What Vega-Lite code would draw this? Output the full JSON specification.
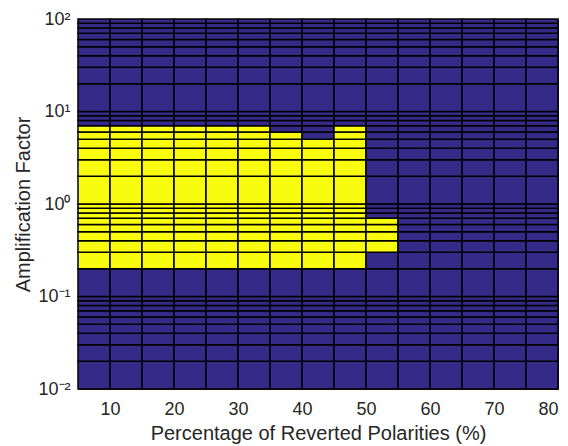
{
"$schema": "https://vega.github.io/schema/vega-lite/v6.json",
"width": 480, "height": 370,
"autosize": "none",
"padding": {"left": 78, "top": 19, "right": 10, "bottom": 57},
"background": "white",
"config": {"view": {"stroke": "#262626", "strokeWidth": 1}, "font": "Liberation Sans"},
"data": {"values": [
{"x":5,"x2":10,"y":0.01,"y2":0.02,"v":0},{"x":5,"x2":10,"y":0.02,"y2":0.03,"v":0},{"x":5,"x2":10,"y":0.03,"y2":0.04,"v":0},{"x":5,"x2":10,"y":0.04,"y2":0.05,"v":0},{"x":5,"x2":10,"y":0.05,"y2":0.06,"v":0},{"x":5,"x2":10,"y":0.06,"y2":0.07,"v":0},{"x":5,"x2":10,"y":0.07,"y2":0.08,"v":0},{"x":5,"x2":10,"y":0.08,"y2":0.09,"v":0},{"x":5,"x2":10,"y":0.09,"y2":0.1,"v":0},{"x":5,"x2":10,"y":0.1,"y2":0.2,"v":0},{"x":5,"x2":10,"y":0.2,"y2":0.3,"v":1},{"x":5,"x2":10,"y":0.3,"y2":0.4,"v":1},{"x":5,"x2":10,"y":0.4,"y2":0.5,"v":1},{"x":5,"x2":10,"y":0.5,"y2":0.6,"v":1},{"x":5,"x2":10,"y":0.6,"y2":0.7,"v":1},{"x":5,"x2":10,"y":0.7,"y2":0.8,"v":1},{"x":5,"x2":10,"y":0.8,"y2":0.9,"v":1},{"x":5,"x2":10,"y":0.9,"y2":1,"v":1},{"x":5,"x2":10,"y":1,"y2":2,"v":1},{"x":5,"x2":10,"y":2,"y2":3,"v":1},{"x":5,"x2":10,"y":3,"y2":4,"v":1},{"x":5,"x2":10,"y":4,"y2":5,"v":1},{"x":5,"x2":10,"y":5,"y2":6,"v":1},{"x":5,"x2":10,"y":6,"y2":7,"v":1},{"x":5,"x2":10,"y":7,"y2":8,"v":0},{"x":5,"x2":10,"y":8,"y2":9,"v":0},{"x":5,"x2":10,"y":9,"y2":10,"v":0},{"x":5,"x2":10,"y":10,"y2":20,"v":0},{"x":5,"x2":10,"y":20,"y2":30,"v":0},{"x":5,"x2":10,"y":30,"y2":40,"v":0},{"x":5,"x2":10,"y":40,"y2":50,"v":0},{"x":5,"x2":10,"y":50,"y2":60,"v":0},{"x":5,"x2":10,"y":60,"y2":70,"v":0},{"x":5,"x2":10,"y":70,"y2":80,"v":0},{"x":5,"x2":10,"y":80,"y2":90,"v":0},{"x":5,"x2":10,"y":90,"y2":100,"v":0},
{"x":10,"x2":15,"y":0.01,"y2":0.02,"v":0},{"x":10,"x2":15,"y":0.02,"y2":0.03,"v":0},{"x":10,"x2":15,"y":0.03,"y2":0.04,"v":0},{"x":10,"x2":15,"y":0.04,"y2":0.05,"v":0},{"x":10,"x2":15,"y":0.05,"y2":0.06,"v":0},{"x":10,"x2":15,"y":0.06,"y2":0.07,"v":0},{"x":10,"x2":15,"y":0.07,"y2":0.08,"v":0},{"x":10,"x2":15,"y":0.08,"y2":0.09,"v":0},{"x":10,"x2":15,"y":0.09,"y2":0.1,"v":0},{"x":10,"x2":15,"y":0.1,"y2":0.2,"v":0},{"x":10,"x2":15,"y":0.2,"y2":0.3,"v":1},{"x":10,"x2":15,"y":0.3,"y2":0.4,"v":1},{"x":10,"x2":15,"y":0.4,"y2":0.5,"v":1},{"x":10,"x2":15,"y":0.5,"y2":0.6,"v":1},{"x":10,"x2":15,"y":0.6,"y2":0.7,"v":1},{"x":10,"x2":15,"y":0.7,"y2":0.8,"v":1},{"x":10,"x2":15,"y":0.8,"y2":0.9,"v":1},{"x":10,"x2":15,"y":0.9,"y2":1,"v":1},{"x":10,"x2":15,"y":1,"y2":2,"v":1},{"x":10,"x2":15,"y":2,"y2":3,"v":1},{"x":10,"x2":15,"y":3,"y2":4,"v":1},{"x":10,"x2":15,"y":4,"y2":5,"v":1},{"x":10,"x2":15,"y":5,"y2":6,"v":1},{"x":10,"x2":15,"y":6,"y2":7,"v":1},{"x":10,"x2":15,"y":7,"y2":8,"v":0},{"x":10,"x2":15,"y":8,"y2":9,"v":0},{"x":10,"x2":15,"y":9,"y2":10,"v":0},{"x":10,"x2":15,"y":10,"y2":20,"v":0},{"x":10,"x2":15,"y":20,"y2":30,"v":0},{"x":10,"x2":15,"y":30,"y2":40,"v":0},{"x":10,"x2":15,"y":40,"y2":50,"v":0},{"x":10,"x2":15,"y":50,"y2":60,"v":0},{"x":10,"x2":15,"y":60,"y2":70,"v":0},{"x":10,"x2":15,"y":70,"y2":80,"v":0},{"x":10,"x2":15,"y":80,"y2":90,"v":0},{"x":10,"x2":15,"y":90,"y2":100,"v":0},
{"x":15,"x2":20,"y":0.01,"y2":0.02,"v":0},{"x":15,"x2":20,"y":0.02,"y2":0.03,"v":0},{"x":15,"x2":20,"y":0.03,"y2":0.04,"v":0},{"x":15,"x2":20,"y":0.04,"y2":0.05,"v":0},{"x":15,"x2":20,"y":0.05,"y2":0.06,"v":0},{"x":15,"x2":20,"y":0.06,"y2":0.07,"v":0},{"x":15,"x2":20,"y":0.07,"y2":0.08,"v":0},{"x":15,"x2":20,"y":0.08,"y2":0.09,"v":0},{"x":15,"x2":20,"y":0.09,"y2":0.1,"v":0},{"x":15,"x2":20,"y":0.1,"y2":0.2,"v":0},{"x":15,"x2":20,"y":0.2,"y2":0.3,"v":1},{"x":15,"x2":20,"y":0.3,"y2":0.4,"v":1},{"x":15,"x2":20,"y":0.4,"y2":0.5,"v":1},{"x":15,"x2":20,"y":0.5,"y2":0.6,"v":1},{"x":15,"x2":20,"y":0.6,"y2":0.7,"v":1},{"x":15,"x2":20,"y":0.7,"y2":0.8,"v":1},{"x":15,"x2":20,"y":0.8,"y2":0.9,"v":1},{"x":15,"x2":20,"y":0.9,"y2":1,"v":1},{"x":15,"x2":20,"y":1,"y2":2,"v":1},{"x":15,"x2":20,"y":2,"y2":3,"v":1},{"x":15,"x2":20,"y":3,"y2":4,"v":1},{"x":15,"x2":20,"y":4,"y2":5,"v":1},{"x":15,"x2":20,"y":5,"y2":6,"v":1},{"x":15,"x2":20,"y":6,"y2":7,"v":1},{"x":15,"x2":20,"y":7,"y2":8,"v":0},{"x":15,"x2":20,"y":8,"y2":9,"v":0},{"x":15,"x2":20,"y":9,"y2":10,"v":0},{"x":15,"x2":20,"y":10,"y2":20,"v":0},{"x":15,"x2":20,"y":20,"y2":30,"v":0},{"x":15,"x2":20,"y":30,"y2":40,"v":0},{"x":15,"x2":20,"y":40,"y2":50,"v":0},{"x":15,"x2":20,"y":50,"y2":60,"v":0},{"x":15,"x2":20,"y":60,"y2":70,"v":0},{"x":15,"x2":20,"y":70,"y2":80,"v":0},{"x":15,"x2":20,"y":80,"y2":90,"v":0},{"x":15,"x2":20,"y":90,"y2":100,"v":0},
{"x":20,"x2":25,"y":0.01,"y2":0.02,"v":0},{"x":20,"x2":25,"y":0.02,"y2":0.03,"v":0},{"x":20,"x2":25,"y":0.03,"y2":0.04,"v":0},{"x":20,"x2":25,"y":0.04,"y2":0.05,"v":0},{"x":20,"x2":25,"y":0.05,"y2":0.06,"v":0},{"x":20,"x2":25,"y":0.06,"y2":0.07,"v":0},{"x":20,"x2":25,"y":0.07,"y2":0.08,"v":0},{"x":20,"x2":25,"y":0.08,"y2":0.09,"v":0},{"x":20,"x2":25,"y":0.09,"y2":0.1,"v":0},{"x":20,"x2":25,"y":0.1,"y2":0.2,"v":0},{"x":20,"x2":25,"y":0.2,"y2":0.3,"v":1},{"x":20,"x2":25,"y":0.3,"y2":0.4,"v":1},{"x":20,"x2":25,"y":0.4,"y2":0.5,"v":1},{"x":20,"x2":25,"y":0.5,"y2":0.6,"v":1},{"x":20,"x2":25,"y":0.6,"y2":0.7,"v":1},{"x":20,"x2":25,"y":0.7,"y2":0.8,"v":1},{"x":20,"x2":25,"y":0.8,"y2":0.9,"v":1},{"x":20,"x2":25,"y":0.9,"y2":1,"v":1},{"x":20,"x2":25,"y":1,"y2":2,"v":1},{"x":20,"x2":25,"y":2,"y2":3,"v":1},{"x":20,"x2":25,"y":3,"y2":4,"v":1},{"x":20,"x2":25,"y":4,"y2":5,"v":1},{"x":20,"x2":25,"y":5,"y2":6,"v":1},{"x":20,"x2":25,"y":6,"y2":7,"v":1},{"x":20,"x2":25,"y":7,"y2":8,"v":0},{"x":20,"x2":25,"y":8,"y2":9,"v":0},{"x":20,"x2":25,"y":9,"y2":10,"v":0},{"x":20,"x2":25,"y":10,"y2":20,"v":0},{"x":20,"x2":25,"y":20,"y2":30,"v":0},{"x":20,"x2":25,"y":30,"y2":40,"v":0},{"x":20,"x2":25,"y":40,"y2":50,"v":0},{"x":20,"x2":25,"y":50,"y2":60,"v":0},{"x":20,"x2":25,"y":60,"y2":70,"v":0},{"x":20,"x2":25,"y":70,"y2":80,"v":0},{"x":20,"x2":25,"y":80,"y2":90,"v":0},{"x":20,"x2":25,"y":90,"y2":100,"v":0},
{"x":25,"x2":30,"y":0.01,"y2":0.02,"v":0},{"x":25,"x2":30,"y":0.02,"y2":0.03,"v":0},{"x":25,"x2":30,"y":0.03,"y2":0.04,"v":0},{"x":25,"x2":30,"y":0.04,"y2":0.05,"v":0},{"x":25,"x2":30,"y":0.05,"y2":0.06,"v":0},{"x":25,"x2":30,"y":0.06,"y2":0.07,"v":0},{"x":25,"x2":30,"y":0.07,"y2":0.08,"v":0},{"x":25,"x2":30,"y":0.08,"y2":0.09,"v":0},{"x":25,"x2":30,"y":0.09,"y2":0.1,"v":0},{"x":25,"x2":30,"y":0.1,"y2":0.2,"v":0},{"x":25,"x2":30,"y":0.2,"y2":0.3,"v":1},{"x":25,"x2":30,"y":0.3,"y2":0.4,"v":1},{"x":25,"x2":30,"y":0.4,"y2":0.5,"v":1},{"x":25,"x2":30,"y":0.5,"y2":0.6,"v":1},{"x":25,"x2":30,"y":0.6,"y2":0.7,"v":1},{"x":25,"x2":30,"y":0.7,"y2":0.8,"v":1},{"x":25,"x2":30,"y":0.8,"y2":0.9,"v":1},{"x":25,"x2":30,"y":0.9,"y2":1,"v":1},{"x":25,"x2":30,"y":1,"y2":2,"v":1},{"x":25,"x2":30,"y":2,"y2":3,"v":1},{"x":25,"x2":30,"y":3,"y2":4,"v":1},{"x":25,"x2":30,"y":4,"y2":5,"v":1},{"x":25,"x2":30,"y":5,"y2":6,"v":1},{"x":25,"x2":30,"y":6,"y2":7,"v":1},{"x":25,"x2":30,"y":7,"y2":8,"v":0},{"x":25,"x2":30,"y":8,"y2":9,"v":0},{"x":25,"x2":30,"y":9,"y2":10,"v":0},{"x":25,"x2":30,"y":10,"y2":20,"v":0},{"x":25,"x2":30,"y":20,"y2":30,"v":0},{"x":25,"x2":30,"y":30,"y2":40,"v":0},{"x":25,"x2":30,"y":40,"y2":50,"v":0},{"x":25,"x2":30,"y":50,"y2":60,"v":0},{"x":25,"x2":30,"y":60,"y2":70,"v":0},{"x":25,"x2":30,"y":70,"y2":80,"v":0},{"x":25,"x2":30,"y":80,"y2":90,"v":0},{"x":25,"x2":30,"y":90,"y2":100,"v":0},
{"x":30,"x2":35,"y":0.01,"y2":0.02,"v":0},{"x":30,"x2":35,"y":0.02,"y2":0.03,"v":0},{"x":30,"x2":35,"y":0.03,"y2":0.04,"v":0},{"x":30,"x2":35,"y":0.04,"y2":0.05,"v":0},{"x":30,"x2":35,"y":0.05,"y2":0.06,"v":0},{"x":30,"x2":35,"y":0.06,"y2":0.07,"v":0},{"x":30,"x2":35,"y":0.07,"y2":0.08,"v":0},{"x":30,"x2":35,"y":0.08,"y2":0.09,"v":0},{"x":30,"x2":35,"y":0.09,"y2":0.1,"v":0},{"x":30,"x2":35,"y":0.1,"y2":0.2,"v":0},{"x":30,"x2":35,"y":0.2,"y2":0.3,"v":1},{"x":30,"x2":35,"y":0.3,"y2":0.4,"v":1},{"x":30,"x2":35,"y":0.4,"y2":0.5,"v":1},{"x":30,"x2":35,"y":0.5,"y2":0.6,"v":1},{"x":30,"x2":35,"y":0.6,"y2":0.7,"v":1},{"x":30,"x2":35,"y":0.7,"y2":0.8,"v":1},{"x":30,"x2":35,"y":0.8,"y2":0.9,"v":1},{"x":30,"x2":35,"y":0.9,"y2":1,"v":1},{"x":30,"x2":35,"y":1,"y2":2,"v":1},{"x":30,"x2":35,"y":2,"y2":3,"v":1},{"x":30,"x2":35,"y":3,"y2":4,"v":1},{"x":30,"x2":35,"y":4,"y2":5,"v":1},{"x":30,"x2":35,"y":5,"y2":6,"v":1},{"x":30,"x2":35,"y":6,"y2":7,"v":1},{"x":30,"x2":35,"y":7,"y2":8,"v":0},{"x":30,"x2":35,"y":8,"y2":9,"v":0},{"x":30,"x2":35,"y":9,"y2":10,"v":0},{"x":30,"x2":35,"y":10,"y2":20,"v":0},{"x":30,"x2":35,"y":20,"y2":30,"v":0},{"x":30,"x2":35,"y":30,"y2":40,"v":0},{"x":30,"x2":35,"y":40,"y2":50,"v":0},{"x":30,"x2":35,"y":50,"y2":60,"v":0},{"x":30,"x2":35,"y":60,"y2":70,"v":0},{"x":30,"x2":35,"y":70,"y2":80,"v":0},{"x":30,"x2":35,"y":80,"y2":90,"v":0},{"x":30,"x2":35,"y":90,"y2":100,"v":0},
{"x":35,"x2":40,"y":0.01,"y2":0.02,"v":0},{"x":35,"x2":40,"y":0.02,"y2":0.03,"v":0},{"x":35,"x2":40,"y":0.03,"y2":0.04,"v":0},{"x":35,"x2":40,"y":0.04,"y2":0.05,"v":0},{"x":35,"x2":40,"y":0.05,"y2":0.06,"v":0},{"x":35,"x2":40,"y":0.06,"y2":0.07,"v":0},{"x":35,"x2":40,"y":0.07,"y2":0.08,"v":0},{"x":35,"x2":40,"y":0.08,"y2":0.09,"v":0},{"x":35,"x2":40,"y":0.09,"y2":0.1,"v":0},{"x":35,"x2":40,"y":0.1,"y2":0.2,"v":0},{"x":35,"x2":40,"y":0.2,"y2":0.3,"v":1},{"x":35,"x2":40,"y":0.3,"y2":0.4,"v":1},{"x":35,"x2":40,"y":0.4,"y2":0.5,"v":1},{"x":35,"x2":40,"y":0.5,"y2":0.6,"v":1},{"x":35,"x2":40,"y":0.6,"y2":0.7,"v":1},{"x":35,"x2":40,"y":0.7,"y2":0.8,"v":1},{"x":35,"x2":40,"y":0.8,"y2":0.9,"v":1},{"x":35,"x2":40,"y":0.9,"y2":1,"v":1},{"x":35,"x2":40,"y":1,"y2":2,"v":1},{"x":35,"x2":40,"y":2,"y2":3,"v":1},{"x":35,"x2":40,"y":3,"y2":4,"v":1},{"x":35,"x2":40,"y":4,"y2":5,"v":1},{"x":35,"x2":40,"y":5,"y2":6,"v":1},{"x":35,"x2":40,"y":6,"y2":7,"v":0},{"x":35,"x2":40,"y":7,"y2":8,"v":0},{"x":35,"x2":40,"y":8,"y2":9,"v":0},{"x":35,"x2":40,"y":9,"y2":10,"v":0},{"x":35,"x2":40,"y":10,"y2":20,"v":0},{"x":35,"x2":40,"y":20,"y2":30,"v":0},{"x":35,"x2":40,"y":30,"y2":40,"v":0},{"x":35,"x2":40,"y":40,"y2":50,"v":0},{"x":35,"x2":40,"y":50,"y2":60,"v":0},{"x":35,"x2":40,"y":60,"y2":70,"v":0},{"x":35,"x2":40,"y":70,"y2":80,"v":0},{"x":35,"x2":40,"y":80,"y2":90,"v":0},{"x":35,"x2":40,"y":90,"y2":100,"v":0},
{"x":40,"x2":45,"y":0.01,"y2":0.02,"v":0},{"x":40,"x2":45,"y":0.02,"y2":0.03,"v":0},{"x":40,"x2":45,"y":0.03,"y2":0.04,"v":0},{"x":40,"x2":45,"y":0.04,"y2":0.05,"v":0},{"x":40,"x2":45,"y":0.05,"y2":0.06,"v":0},{"x":40,"x2":45,"y":0.06,"y2":0.07,"v":0},{"x":40,"x2":45,"y":0.07,"y2":0.08,"v":0},{"x":40,"x2":45,"y":0.08,"y2":0.09,"v":0},{"x":40,"x2":45,"y":0.09,"y2":0.1,"v":0},{"x":40,"x2":45,"y":0.1,"y2":0.2,"v":0},{"x":40,"x2":45,"y":0.2,"y2":0.3,"v":1},{"x":40,"x2":45,"y":0.3,"y2":0.4,"v":1},{"x":40,"x2":45,"y":0.4,"y2":0.5,"v":1},{"x":40,"x2":45,"y":0.5,"y2":0.6,"v":1},{"x":40,"x2":45,"y":0.6,"y2":0.7,"v":1},{"x":40,"x2":45,"y":0.7,"y2":0.8,"v":1},{"x":40,"x2":45,"y":0.8,"y2":0.9,"v":1},{"x":40,"x2":45,"y":0.9,"y2":1,"v":1},{"x":40,"x2":45,"y":1,"y2":2,"v":1},{"x":40,"x2":45,"y":2,"y2":3,"v":1},{"x":40,"x2":45,"y":3,"y2":4,"v":1},{"x":40,"x2":45,"y":4,"y2":5,"v":1},{"x":40,"x2":45,"y":5,"y2":6,"v":0},{"x":40,"x2":45,"y":6,"y2":7,"v":0},{"x":40,"x2":45,"y":7,"y2":8,"v":0},{"x":40,"x2":45,"y":8,"y2":9,"v":0},{"x":40,"x2":45,"y":9,"y2":10,"v":0},{"x":40,"x2":45,"y":10,"y2":20,"v":0},{"x":40,"x2":45,"y":20,"y2":30,"v":0},{"x":40,"x2":45,"y":30,"y2":40,"v":0},{"x":40,"x2":45,"y":40,"y2":50,"v":0},{"x":40,"x2":45,"y":50,"y2":60,"v":0},{"x":40,"x2":45,"y":60,"y2":70,"v":0},{"x":40,"x2":45,"y":70,"y2":80,"v":0},{"x":40,"x2":45,"y":80,"y2":90,"v":0},{"x":40,"x2":45,"y":90,"y2":100,"v":0},
{"x":45,"x2":50,"y":0.01,"y2":0.02,"v":0},{"x":45,"x2":50,"y":0.02,"y2":0.03,"v":0},{"x":45,"x2":50,"y":0.03,"y2":0.04,"v":0},{"x":45,"x2":50,"y":0.04,"y2":0.05,"v":0},{"x":45,"x2":50,"y":0.05,"y2":0.06,"v":0},{"x":45,"x2":50,"y":0.06,"y2":0.07,"v":0},{"x":45,"x2":50,"y":0.07,"y2":0.08,"v":0},{"x":45,"x2":50,"y":0.08,"y2":0.09,"v":0},{"x":45,"x2":50,"y":0.09,"y2":0.1,"v":0},{"x":45,"x2":50,"y":0.1,"y2":0.2,"v":0},{"x":45,"x2":50,"y":0.2,"y2":0.3,"v":1},{"x":45,"x2":50,"y":0.3,"y2":0.4,"v":1},{"x":45,"x2":50,"y":0.4,"y2":0.5,"v":1},{"x":45,"x2":50,"y":0.5,"y2":0.6,"v":1},{"x":45,"x2":50,"y":0.6,"y2":0.7,"v":1},{"x":45,"x2":50,"y":0.7,"y2":0.8,"v":1},{"x":45,"x2":50,"y":0.8,"y2":0.9,"v":1},{"x":45,"x2":50,"y":0.9,"y2":1,"v":1},{"x":45,"x2":50,"y":1,"y2":2,"v":1},{"x":45,"x2":50,"y":2,"y2":3,"v":1},{"x":45,"x2":50,"y":3,"y2":4,"v":1},{"x":45,"x2":50,"y":4,"y2":5,"v":1},{"x":45,"x2":50,"y":5,"y2":6,"v":1},{"x":45,"x2":50,"y":6,"y2":7,"v":1},{"x":45,"x2":50,"y":7,"y2":8,"v":0},{"x":45,"x2":50,"y":8,"y2":9,"v":0},{"x":45,"x2":50,"y":9,"y2":10,"v":0},{"x":45,"x2":50,"y":10,"y2":20,"v":0},{"x":45,"x2":50,"y":20,"y2":30,"v":0},{"x":45,"x2":50,"y":30,"y2":40,"v":0},{"x":45,"x2":50,"y":40,"y2":50,"v":0},{"x":45,"x2":50,"y":50,"y2":60,"v":0},{"x":45,"x2":50,"y":60,"y2":70,"v":0},{"x":45,"x2":50,"y":70,"y2":80,"v":0},{"x":45,"x2":50,"y":80,"y2":90,"v":0},{"x":45,"x2":50,"y":90,"y2":100,"v":0},
{"x":50,"x2":55,"y":0.01,"y2":0.02,"v":0},{"x":50,"x2":55,"y":0.02,"y2":0.03,"v":0},{"x":50,"x2":55,"y":0.03,"y2":0.04,"v":0},{"x":50,"x2":55,"y":0.04,"y2":0.05,"v":0},{"x":50,"x2":55,"y":0.05,"y2":0.06,"v":0},{"x":50,"x2":55,"y":0.06,"y2":0.07,"v":0},{"x":50,"x2":55,"y":0.07,"y2":0.08,"v":0},{"x":50,"x2":55,"y":0.08,"y2":0.09,"v":0},{"x":50,"x2":55,"y":0.09,"y2":0.1,"v":0},{"x":50,"x2":55,"y":0.1,"y2":0.2,"v":0},{"x":50,"x2":55,"y":0.2,"y2":0.3,"v":0},{"x":50,"x2":55,"y":0.3,"y2":0.4,"v":1},{"x":50,"x2":55,"y":0.4,"y2":0.5,"v":1},{"x":50,"x2":55,"y":0.5,"y2":0.6,"v":1},{"x":50,"x2":55,"y":0.6,"y2":0.7,"v":1},{"x":50,"x2":55,"y":0.7,"y2":0.8,"v":0},{"x":50,"x2":55,"y":0.8,"y2":0.9,"v":0},{"x":50,"x2":55,"y":0.9,"y2":1,"v":0},{"x":50,"x2":55,"y":1,"y2":2,"v":0},{"x":50,"x2":55,"y":2,"y2":3,"v":0},{"x":50,"x2":55,"y":3,"y2":4,"v":0},{"x":50,"x2":55,"y":4,"y2":5,"v":0},{"x":50,"x2":55,"y":5,"y2":6,"v":0},{"x":50,"x2":55,"y":6,"y2":7,"v":0},{"x":50,"x2":55,"y":7,"y2":8,"v":0},{"x":50,"x2":55,"y":8,"y2":9,"v":0},{"x":50,"x2":55,"y":9,"y2":10,"v":0},{"x":50,"x2":55,"y":10,"y2":20,"v":0},{"x":50,"x2":55,"y":20,"y2":30,"v":0},{"x":50,"x2":55,"y":30,"y2":40,"v":0},{"x":50,"x2":55,"y":40,"y2":50,"v":0},{"x":50,"x2":55,"y":50,"y2":60,"v":0},{"x":50,"x2":55,"y":60,"y2":70,"v":0},{"x":50,"x2":55,"y":70,"y2":80,"v":0},{"x":50,"x2":55,"y":80,"y2":90,"v":0},{"x":50,"x2":55,"y":90,"y2":100,"v":0},
{"x":55,"x2":60,"y":0.01,"y2":0.02,"v":0},{"x":55,"x2":60,"y":0.02,"y2":0.03,"v":0},{"x":55,"x2":60,"y":0.03,"y2":0.04,"v":0},{"x":55,"x2":60,"y":0.04,"y2":0.05,"v":0},{"x":55,"x2":60,"y":0.05,"y2":0.06,"v":0},{"x":55,"x2":60,"y":0.06,"y2":0.07,"v":0},{"x":55,"x2":60,"y":0.07,"y2":0.08,"v":0},{"x":55,"x2":60,"y":0.08,"y2":0.09,"v":0},{"x":55,"x2":60,"y":0.09,"y2":0.1,"v":0},{"x":55,"x2":60,"y":0.1,"y2":0.2,"v":0},{"x":55,"x2":60,"y":0.2,"y2":0.3,"v":0},{"x":55,"x2":60,"y":0.3,"y2":0.4,"v":0},{"x":55,"x2":60,"y":0.4,"y2":0.5,"v":0},{"x":55,"x2":60,"y":0.5,"y2":0.6,"v":0},{"x":55,"x2":60,"y":0.6,"y2":0.7,"v":0},{"x":55,"x2":60,"y":0.7,"y2":0.8,"v":0},{"x":55,"x2":60,"y":0.8,"y2":0.9,"v":0},{"x":55,"x2":60,"y":0.9,"y2":1,"v":0},{"x":55,"x2":60,"y":1,"y2":2,"v":0},{"x":55,"x2":60,"y":2,"y2":3,"v":0},{"x":55,"x2":60,"y":3,"y2":4,"v":0},{"x":55,"x2":60,"y":4,"y2":5,"v":0},{"x":55,"x2":60,"y":5,"y2":6,"v":0},{"x":55,"x2":60,"y":6,"y2":7,"v":0},{"x":55,"x2":60,"y":7,"y2":8,"v":0},{"x":55,"x2":60,"y":8,"y2":9,"v":0},{"x":55,"x2":60,"y":9,"y2":10,"v":0},{"x":55,"x2":60,"y":10,"y2":20,"v":0},{"x":55,"x2":60,"y":20,"y2":30,"v":0},{"x":55,"x2":60,"y":30,"y2":40,"v":0},{"x":55,"x2":60,"y":40,"y2":50,"v":0},{"x":55,"x2":60,"y":50,"y2":60,"v":0},{"x":55,"x2":60,"y":60,"y2":70,"v":0},{"x":55,"x2":60,"y":70,"y2":80,"v":0},{"x":55,"x2":60,"y":80,"y2":90,"v":0},{"x":55,"x2":60,"y":90,"y2":100,"v":0},
{"x":60,"x2":65,"y":0.01,"y2":0.02,"v":0},{"x":60,"x2":65,"y":0.02,"y2":0.03,"v":0},{"x":60,"x2":65,"y":0.03,"y2":0.04,"v":0},{"x":60,"x2":65,"y":0.04,"y2":0.05,"v":0},{"x":60,"x2":65,"y":0.05,"y2":0.06,"v":0},{"x":60,"x2":65,"y":0.06,"y2":0.07,"v":0},{"x":60,"x2":65,"y":0.07,"y2":0.08,"v":0},{"x":60,"x2":65,"y":0.08,"y2":0.09,"v":0},{"x":60,"x2":65,"y":0.09,"y2":0.1,"v":0},{"x":60,"x2":65,"y":0.1,"y2":0.2,"v":0},{"x":60,"x2":65,"y":0.2,"y2":0.3,"v":0},{"x":60,"x2":65,"y":0.3,"y2":0.4,"v":0},{"x":60,"x2":65,"y":0.4,"y2":0.5,"v":0},{"x":60,"x2":65,"y":0.5,"y2":0.6,"v":0},{"x":60,"x2":65,"y":0.6,"y2":0.7,"v":0},{"x":60,"x2":65,"y":0.7,"y2":0.8,"v":0},{"x":60,"x2":65,"y":0.8,"y2":0.9,"v":0},{"x":60,"x2":65,"y":0.9,"y2":1,"v":0},{"x":60,"x2":65,"y":1,"y2":2,"v":0},{"x":60,"x2":65,"y":2,"y2":3,"v":0},{"x":60,"x2":65,"y":3,"y2":4,"v":0},{"x":60,"x2":65,"y":4,"y2":5,"v":0},{"x":60,"x2":65,"y":5,"y2":6,"v":0},{"x":60,"x2":65,"y":6,"y2":7,"v":0},{"x":60,"x2":65,"y":7,"y2":8,"v":0},{"x":60,"x2":65,"y":8,"y2":9,"v":0},{"x":60,"x2":65,"y":9,"y2":10,"v":0},{"x":60,"x2":65,"y":10,"y2":20,"v":0},{"x":60,"x2":65,"y":20,"y2":30,"v":0},{"x":60,"x2":65,"y":30,"y2":40,"v":0},{"x":60,"x2":65,"y":40,"y2":50,"v":0},{"x":60,"x2":65,"y":50,"y2":60,"v":0},{"x":60,"x2":65,"y":60,"y2":70,"v":0},{"x":60,"x2":65,"y":70,"y2":80,"v":0},{"x":60,"x2":65,"y":80,"y2":90,"v":0},{"x":60,"x2":65,"y":90,"y2":100,"v":0},
{"x":65,"x2":70,"y":0.01,"y2":0.02,"v":0},{"x":65,"x2":70,"y":0.02,"y2":0.03,"v":0},{"x":65,"x2":70,"y":0.03,"y2":0.04,"v":0},{"x":65,"x2":70,"y":0.04,"y2":0.05,"v":0},{"x":65,"x2":70,"y":0.05,"y2":0.06,"v":0},{"x":65,"x2":70,"y":0.06,"y2":0.07,"v":0},{"x":65,"x2":70,"y":0.07,"y2":0.08,"v":0},{"x":65,"x2":70,"y":0.08,"y2":0.09,"v":0},{"x":65,"x2":70,"y":0.09,"y2":0.1,"v":0},{"x":65,"x2":70,"y":0.1,"y2":0.2,"v":0},{"x":65,"x2":70,"y":0.2,"y2":0.3,"v":0},{"x":65,"x2":70,"y":0.3,"y2":0.4,"v":0},{"x":65,"x2":70,"y":0.4,"y2":0.5,"v":0},{"x":65,"x2":70,"y":0.5,"y2":0.6,"v":0},{"x":65,"x2":70,"y":0.6,"y2":0.7,"v":0},{"x":65,"x2":70,"y":0.7,"y2":0.8,"v":0},{"x":65,"x2":70,"y":0.8,"y2":0.9,"v":0},{"x":65,"x2":70,"y":0.9,"y2":1,"v":0},{"x":65,"x2":70,"y":1,"y2":2,"v":0},{"x":65,"x2":70,"y":2,"y2":3,"v":0},{"x":65,"x2":70,"y":3,"y2":4,"v":0},{"x":65,"x2":70,"y":4,"y2":5,"v":0},{"x":65,"x2":70,"y":5,"y2":6,"v":0},{"x":65,"x2":70,"y":6,"y2":7,"v":0},{"x":65,"x2":70,"y":7,"y2":8,"v":0},{"x":65,"x2":70,"y":8,"y2":9,"v":0},{"x":65,"x2":70,"y":9,"y2":10,"v":0},{"x":65,"x2":70,"y":10,"y2":20,"v":0},{"x":65,"x2":70,"y":20,"y2":30,"v":0},{"x":65,"x2":70,"y":30,"y2":40,"v":0},{"x":65,"x2":70,"y":40,"y2":50,"v":0},{"x":65,"x2":70,"y":50,"y2":60,"v":0},{"x":65,"x2":70,"y":60,"y2":70,"v":0},{"x":65,"x2":70,"y":70,"y2":80,"v":0},{"x":65,"x2":70,"y":80,"y2":90,"v":0},{"x":65,"x2":70,"y":90,"y2":100,"v":0},
{"x":70,"x2":75,"y":0.01,"y2":0.02,"v":0},{"x":70,"x2":75,"y":0.02,"y2":0.03,"v":0},{"x":70,"x2":75,"y":0.03,"y2":0.04,"v":0},{"x":70,"x2":75,"y":0.04,"y2":0.05,"v":0},{"x":70,"x2":75,"y":0.05,"y2":0.06,"v":0},{"x":70,"x2":75,"y":0.06,"y2":0.07,"v":0},{"x":70,"x2":75,"y":0.07,"y2":0.08,"v":0},{"x":70,"x2":75,"y":0.08,"y2":0.09,"v":0},{"x":70,"x2":75,"y":0.09,"y2":0.1,"v":0},{"x":70,"x2":75,"y":0.1,"y2":0.2,"v":0},{"x":70,"x2":75,"y":0.2,"y2":0.3,"v":0},{"x":70,"x2":75,"y":0.3,"y2":0.4,"v":0},{"x":70,"x2":75,"y":0.4,"y2":0.5,"v":0},{"x":70,"x2":75,"y":0.5,"y2":0.6,"v":0},{"x":70,"x2":75,"y":0.6,"y2":0.7,"v":0},{"x":70,"x2":75,"y":0.7,"y2":0.8,"v":0},{"x":70,"x2":75,"y":0.8,"y2":0.9,"v":0},{"x":70,"x2":75,"y":0.9,"y2":1,"v":0},{"x":70,"x2":75,"y":1,"y2":2,"v":0},{"x":70,"x2":75,"y":2,"y2":3,"v":0},{"x":70,"x2":75,"y":3,"y2":4,"v":0},{"x":70,"x2":75,"y":4,"y2":5,"v":0},{"x":70,"x2":75,"y":5,"y2":6,"v":0},{"x":70,"x2":75,"y":6,"y2":7,"v":0},{"x":70,"x2":75,"y":7,"y2":8,"v":0},{"x":70,"x2":75,"y":8,"y2":9,"v":0},{"x":70,"x2":75,"y":9,"y2":10,"v":0},{"x":70,"x2":75,"y":10,"y2":20,"v":0},{"x":70,"x2":75,"y":20,"y2":30,"v":0},{"x":70,"x2":75,"y":30,"y2":40,"v":0},{"x":70,"x2":75,"y":40,"y2":50,"v":0},{"x":70,"x2":75,"y":50,"y2":60,"v":0},{"x":70,"x2":75,"y":60,"y2":70,"v":0},{"x":70,"x2":75,"y":70,"y2":80,"v":0},{"x":70,"x2":75,"y":80,"y2":90,"v":0},{"x":70,"x2":75,"y":90,"y2":100,"v":0},
{"x":75,"x2":80,"y":0.01,"y2":0.02,"v":0},{"x":75,"x2":80,"y":0.02,"y2":0.03,"v":0},{"x":75,"x2":80,"y":0.03,"y2":0.04,"v":0},{"x":75,"x2":80,"y":0.04,"y2":0.05,"v":0},{"x":75,"x2":80,"y":0.05,"y2":0.06,"v":0},{"x":75,"x2":80,"y":0.06,"y2":0.07,"v":0},{"x":75,"x2":80,"y":0.07,"y2":0.08,"v":0},{"x":75,"x2":80,"y":0.08,"y2":0.09,"v":0},{"x":75,"x2":80,"y":0.09,"y2":0.1,"v":0},{"x":75,"x2":80,"y":0.1,"y2":0.2,"v":0},{"x":75,"x2":80,"y":0.2,"y2":0.3,"v":0},{"x":75,"x2":80,"y":0.3,"y2":0.4,"v":0},{"x":75,"x2":80,"y":0.4,"y2":0.5,"v":0},{"x":75,"x2":80,"y":0.5,"y2":0.6,"v":0},{"x":75,"x2":80,"y":0.6,"y2":0.7,"v":0},{"x":75,"x2":80,"y":0.7,"y2":0.8,"v":0},{"x":75,"x2":80,"y":0.8,"y2":0.9,"v":0},{"x":75,"x2":80,"y":0.9,"y2":1,"v":0},{"x":75,"x2":80,"y":1,"y2":2,"v":0},{"x":75,"x2":80,"y":2,"y2":3,"v":0},{"x":75,"x2":80,"y":3,"y2":4,"v":0},{"x":75,"x2":80,"y":4,"y2":5,"v":0},{"x":75,"x2":80,"y":5,"y2":6,"v":0},{"x":75,"x2":80,"y":6,"y2":7,"v":0},{"x":75,"x2":80,"y":7,"y2":8,"v":0},{"x":75,"x2":80,"y":8,"y2":9,"v":0},{"x":75,"x2":80,"y":9,"y2":10,"v":0},{"x":75,"x2":80,"y":10,"y2":20,"v":0},{"x":75,"x2":80,"y":20,"y2":30,"v":0},{"x":75,"x2":80,"y":30,"y2":40,"v":0},{"x":75,"x2":80,"y":40,"y2":50,"v":0},{"x":75,"x2":80,"y":50,"y2":60,"v":0},{"x":75,"x2":80,"y":60,"y2":70,"v":0},{"x":75,"x2":80,"y":70,"y2":80,"v":0},{"x":75,"x2":80,"y":80,"y2":90,"v":0},{"x":75,"x2":80,"y":90,"y2":100,"v":0}
]},
"mark": {"type": "rect", "stroke": "black", "strokeWidth": 1.5},
"encoding": {
"x": {"field": "x", "type": "quantitative", "scale": {"domain": [5, 80], "nice": false, "zero": false},
"axis": {"values": [10,20,30,40,50,60,70,80], "title": "Percentage of Reverted Polarities (%)", "grid": false, "domain": false, "ticks": false, "labelPadding": 11, "labelFontSize": 18, "labelColor": "#262626", "labelFont": "Liberation Sans", "titleFont": "Liberation Sans", "titleFontSize": 20, "titleFontWeight": "normal", "titleColor": "#262626", "titlePadding": 5}},
"x2": {"field": "x2"},
"y": {"field": "y", "type": "quantitative", "scale": {"type": "log", "domain": [0.01, 100], "nice": false},
"axis": {"values": [0.01, 0.1, 1, 10, 100], "labelExpr": "{'-2':'10⁻²','-1':'10⁻¹','0':'10⁰','1':'10¹','2':'10²'}[''+round(log(datum.value)/LN10)]", "title": "Amplification Factor", "grid": false, "domain": false, "ticks": false, "labelPadding": 8, "labelFontSize": 18, "labelColor": "#262626", "labelFont": "Liberation Sans", "titleFont": "Liberation Sans", "titleFontSize": 20, "titleFontWeight": "normal", "titleColor": "#262626", "titlePadding": 4}},
"y2": {"field": "y2"},
"color": {"field": "v", "type": "nominal", "scale": {"domain": [0, 1], "range": ["#352a87", "#f9fb0e"]}, "legend": null}
}
}
